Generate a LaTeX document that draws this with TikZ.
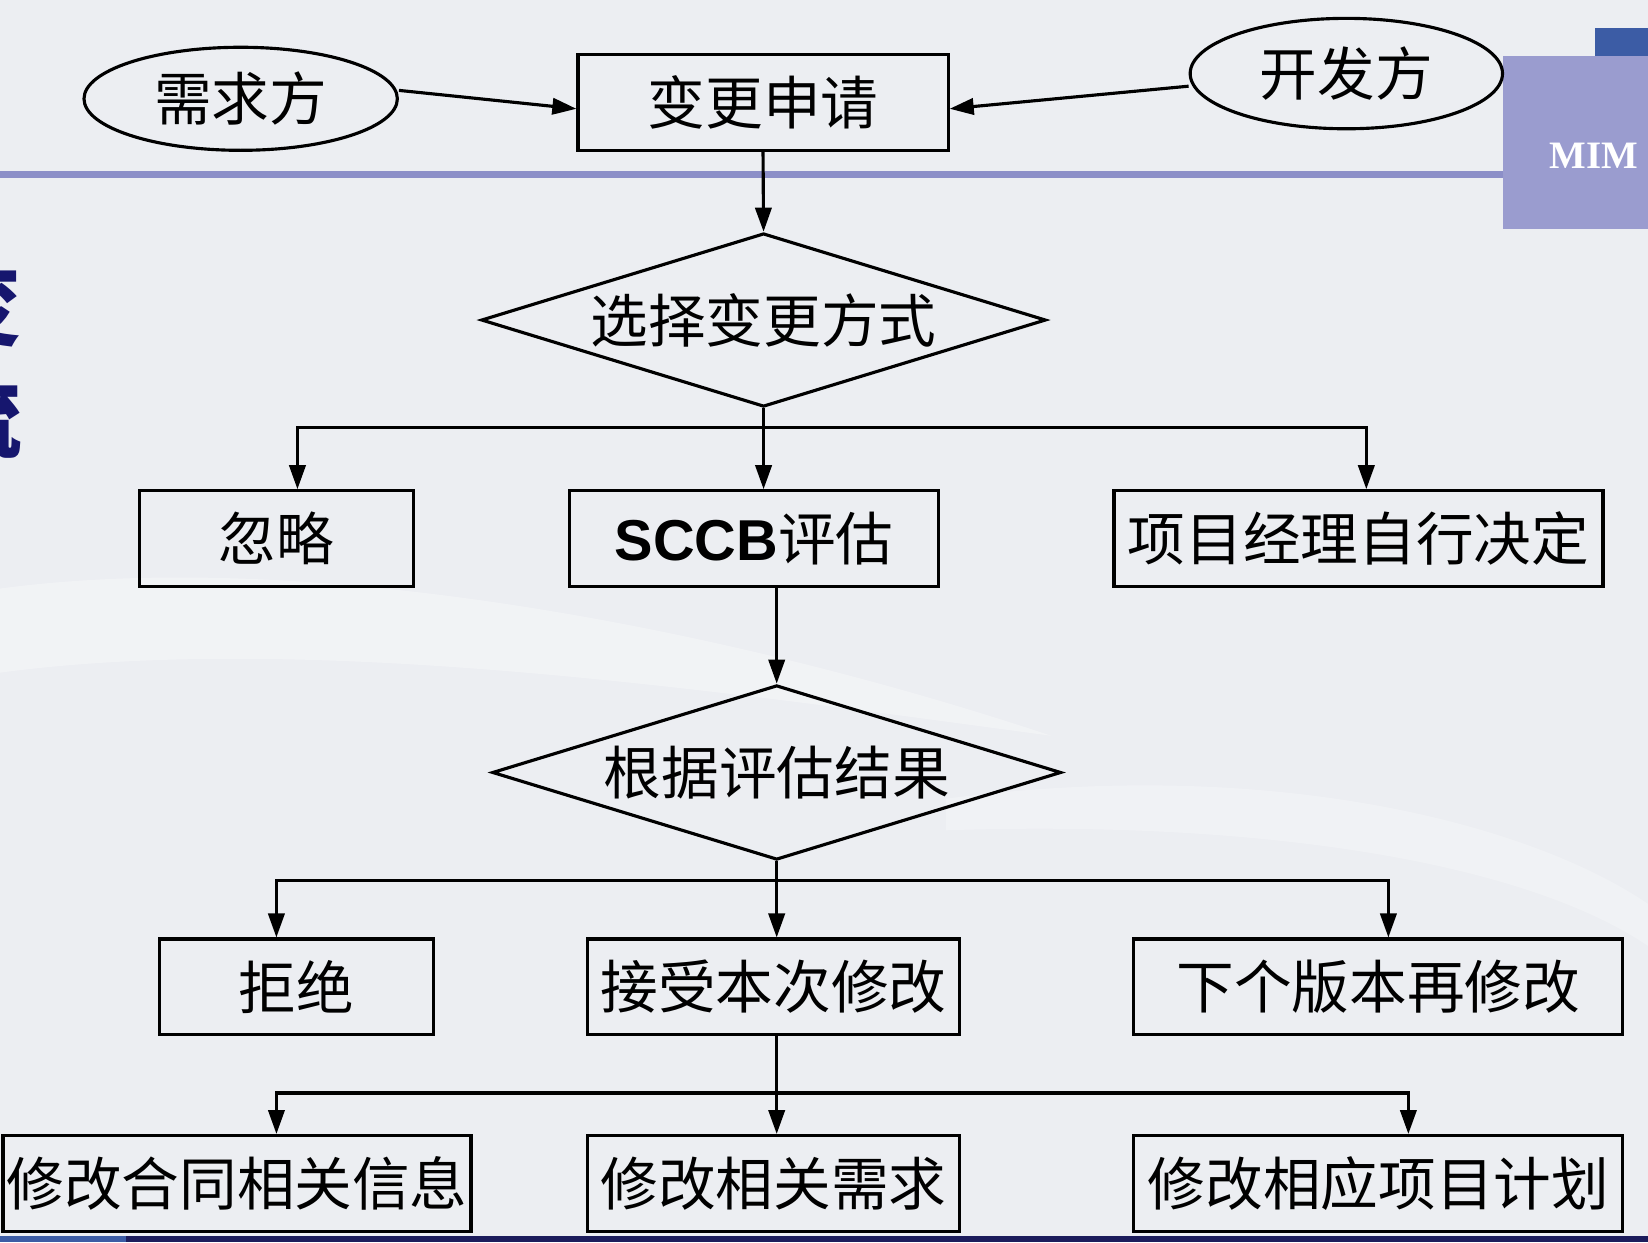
\documentclass[tikz,border=0pt]{standalone}
\usepackage{fontspec}
\newfontfamily\cjk{Noto Sans CJK SC}
\newfontfamily\sccbfont{Liberation Sans}
\newfontfamily\logofont{Liberation Serif}
\usetikzlibrary{shapes.geometric,arrows.meta,calc}
\definecolor{bgc}{RGB}{236,238,242}
\definecolor{rulec}{RGB}{140,143,200}
\definecolor{logoc}{RGB}{154,156,207}
\definecolor{logotop}{RGB}{60,92,165}
\definecolor{navy}{RGB}{22,22,110}
\definecolor{barnavy}{RGB}{28,28,92}
\tikzset{
  lbl/.style={font=\cjk\fontsize{15.6pt}{18pt}\selectfont, text=black},
  stepbox/.style={lbl, draw=black, line width=0.85pt, rectangle, inner sep=0pt, minimum height=0.91cm},
  oval/.style={lbl, draw=black, line width=0.85pt, ellipse, inner sep=0pt},
  dec/.style={lbl, draw=black, line width=0.85pt, diamond, aspect=3.2, inner sep=0pt},
  wire/.style={draw=black, line width=0.85pt},
  arr/.style={wire, -{Triangle[length=6.5pt,width=4.4pt]}},
}
\begin{document}
\begin{tikzpicture}[x=0.01cm,y=-0.01cm]
\useasboundingbox (0,0) rectangle (1568,1182);
% background
\fill[bgc] (0,0) rectangle (1568,1182);
\fill[white,opacity=0.3] (0,560) .. controls (300,520) and (700,600) .. (1000,700) .. controls (700,660) and (300,600) .. (0,640) -- cycle;
\fill[white,opacity=0.25] (900,760) .. controls (1200,720) and (1450,780) .. (1568,860) -- (1568,900) .. controls (1450,820) and (1200,780) .. (900,790) -- cycle;
% top rule and logo
\fill[rulec] (0,163) rectangle (1430,169);
\fill[logotop] (1518,27) rectangle (1568,53);
\fill[logoc] (1430,53) rectangle (1568,218);
\node[anchor=west, inner sep=0pt, text=white, font=\logofont\bfseries\fontsize{10.5pt}{12pt}\selectfont] (logo) at (1474,148) {MIM};
% partially visible title glyphs at left edge
\node[anchor=east, inner sep=0pt, text=navy, font=\cjk\bfseries\fontsize{24pt}{26pt}\selectfont] (t1) at (22,290) {变};
\node[anchor=east, inner sep=0pt, text=navy, font=\cjk\bfseries\fontsize{24pt}{26pt}\selectfont] (t2) at (22,397) {流};
% bottom bar
\fill[barnavy] (0,1176) rectangle (1568,1182);
\fill[logotop] (0,1176) rectangle (120,1182);

% nodes
\node[oval, minimum width=2.98cm, minimum height=0.98cm] (xq) at (229,94) {需求方};
\node[oval, minimum width=2.97cm, minimum height=1.05cm] (kf) at (1281,70) {开发方};
\node[stepbox, minimum width=3.52cm] (req) at (726,97.5) {变更申请};
\node[dec, minimum width=5.37cm, minimum height=1.65cm] (d1) at (726.5,304.5) {选择变更方式};
\node[stepbox, minimum width=2.60cm] (hl) at (263,512.5) {忽略};
\node[stepbox, minimum width=3.51cm] (sccb) at (717.5,512.5) {{\sccbfont\bfseries SCCB}评估};
\node[stepbox, minimum width=4.65cm] (pm) at (1292.5,512.5) {项目经理自行决定};
\node[dec, minimum width=5.41cm, minimum height=1.66cm] (d2) at (739,735) {根据评估结果};
\node[stepbox, minimum width=2.60cm] (jj) at (282,939) {拒绝};
\node[stepbox, minimum width=3.54cm] (js) at (736,939) {接受本次修改};
\node[stepbox, minimum width=4.65cm] (xg) at (1311.5,939) {下个版本再修改};
\node[stepbox, minimum width=4.45cm] (ht) at (225.5,1126) {修改合同相关信息};
\node[stepbox, minimum width=3.54cm] (xr) at (736,1126) {修改相关需求};
\node[stepbox, minimum width=4.65cm] (jh) at (1311.5,1126) {修改相应项目计划};

% connectors
\draw[arr] ($(xq.east)+(0,-8)$) -- ($(req.west)+(0,6)$);
\draw[arr] ($(kf.west)+(0,12)$) -- ($(req.east)+(0,6)$);
\draw[arr] (req.south) -- (d1.north);

\coordinate (j1) at (726.5,407);
\draw[wire] (d1.south) -- (j1);
\draw[arr] (j1) -| ([xshift=0.2cm]hl.north);
\draw[arr] (j1) -- (j1 |- sccb.north);
\draw[arr] (j1) -| ([xshift=0.075cm]pm.north);

\draw[arr] (d2.north |- sccb.south) -- (d2.north);

\coordinate (j2) at (739,838);
\draw[wire] (d2.south) -- (j2);
\draw[arr] (j2) -| ([xshift=-0.19cm]jj.north);
\draw[arr] (j2) -- (j2 |- js.north);
\draw[arr] (j2) -| ([xshift=0.095cm]xg.north);

\coordinate (j3) at (739,1040);
\draw[wire] (j3 |- js.south) -- (j3);
\draw[arr] (j3) -| ([xshift=0.375cm]ht.north);
\draw[arr] (j3) -- (j3 |- xr.north);
\draw[arr] (j3) -| ([xshift=0.285cm]jh.north);
\end{tikzpicture}
\end{document}
